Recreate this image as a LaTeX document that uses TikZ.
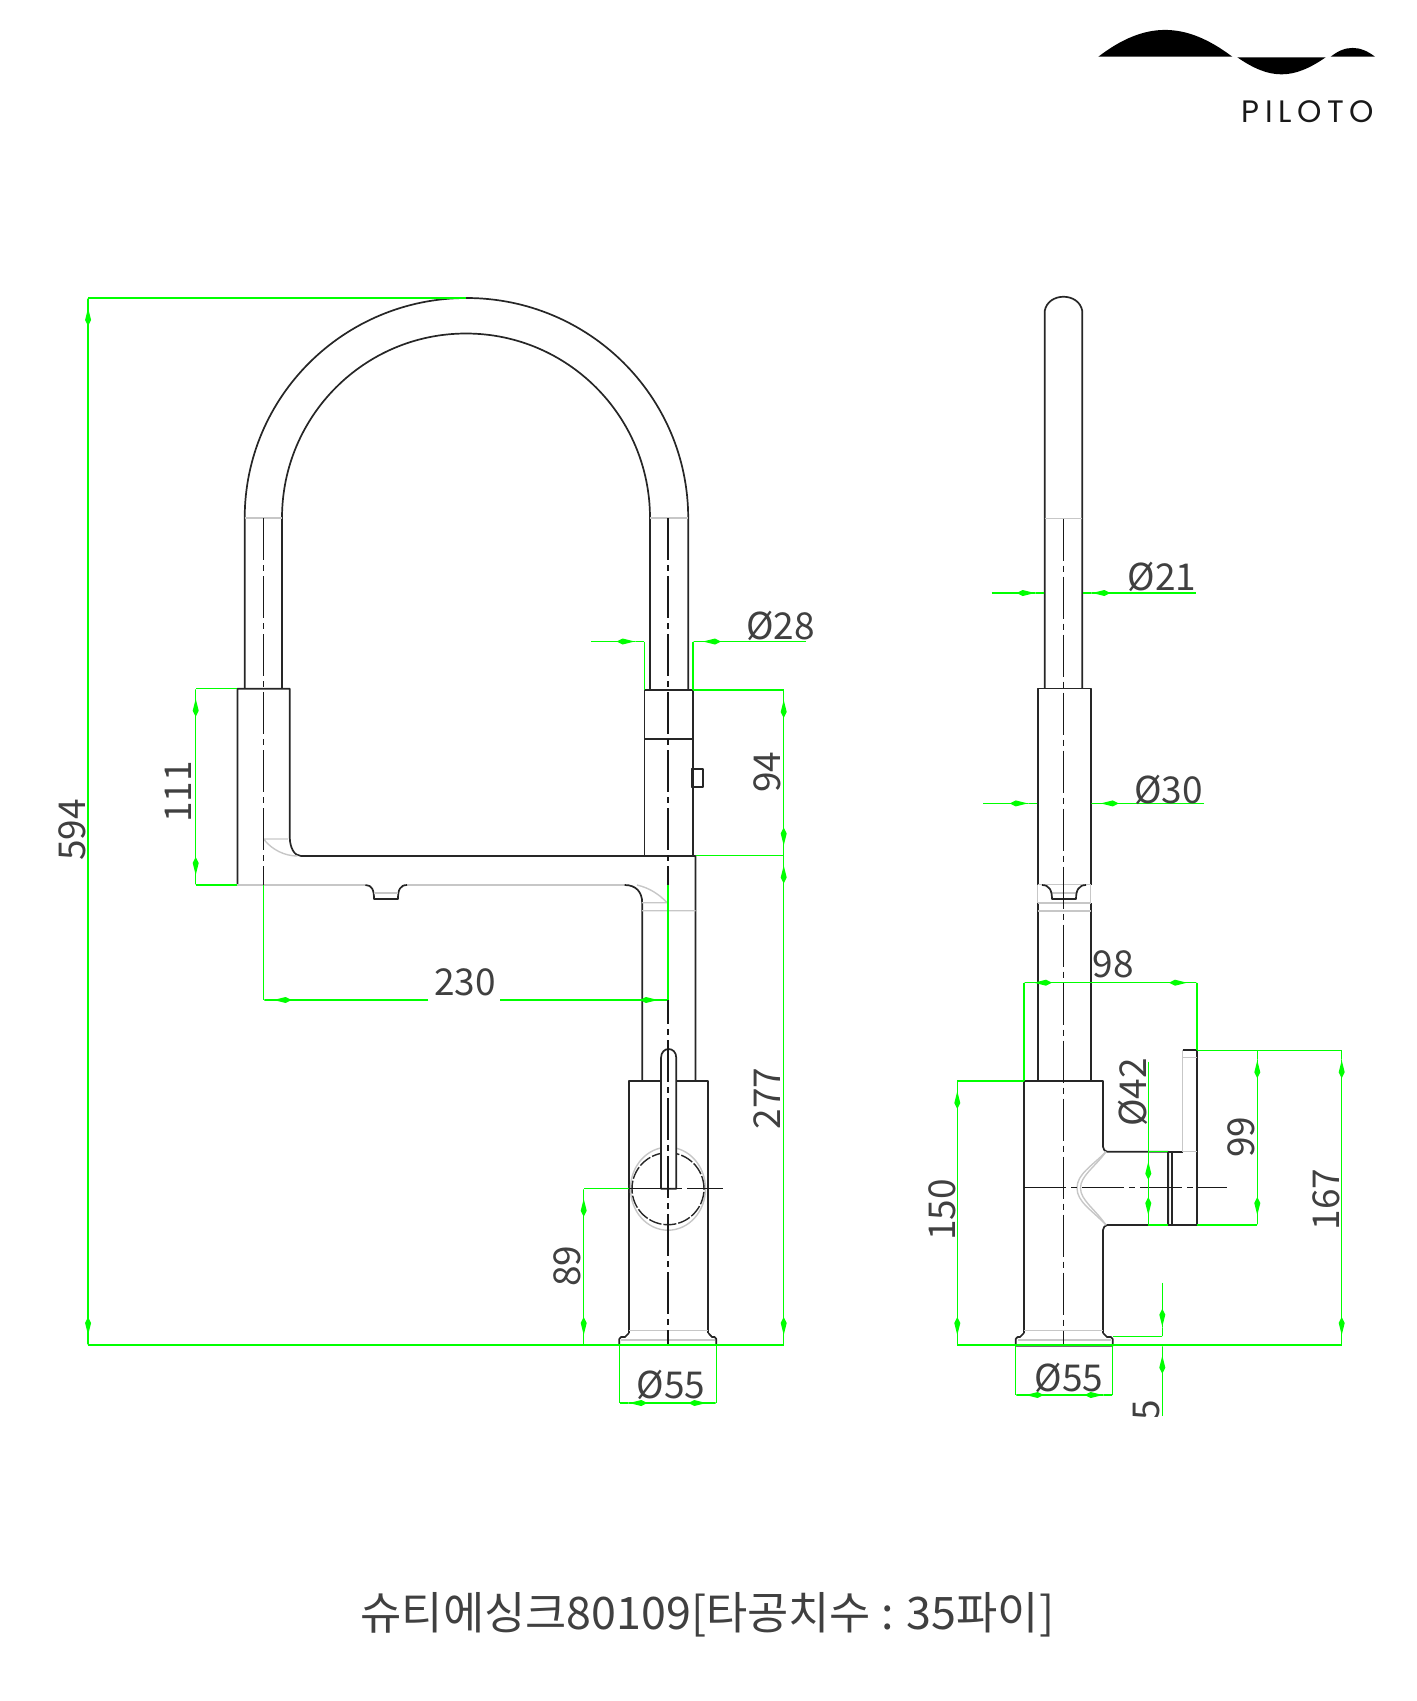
\documentclass[tikz,border=0pt]{standalone}
\usepackage{fontspec}
\usetikzlibrary{arrows.meta}
\newfontfamily\dimfont{Noto Sans CJK KR}
\newfontfamily\logofont{Poppins}[LetterSpace=18]
\begin{document}
\begin{tikzpicture}[x=1pt,y=-1pt,
  faucet/.style = {line width=1.7pt,draw=black!85,line join=round},
  hidden/.style = {line width=1.4pt,draw=black!22},
  axisline/.style = {line width=1.5pt,draw=black!90,dash pattern=on 42pt off 5pt on 6pt off 5pt},
  dimline/.style = {line width=1.4pt,draw=green},
  dimboth/.style = {dimline,{Rectangle[length=10pt,width=1.4pt] Kite[length=18pt,width=6pt,inset=6pt]}-{Kite[length=18pt,width=6pt,inset=6pt] Rectangle[length=10pt,width=1.4pt]}},
  dimend/.style = {dimline,-{Kite[length=18pt,width=6pt,inset=6pt] Rectangle[length=10pt,width=1.4pt]}},
  dimtext/.style = {font=\dimfont\fontsize{37}{37}\selectfont,text=black!75,inner sep=0pt}]
 \useasboundingbox (0,0) rectangle (1417,1701);
 % logo
 \fill[black] (1098.3,56.7) .. controls (1145,21) and (1185,21) .. (1232.3,56.7) -- cycle;
 \fill[black] (1237.3,57.3) .. controls (1270,80) and (1293,80) .. (1325.7,57.3) -- cycle;
 \fill[black] (1330.7,56.7) .. controls (1345,45) and (1360,45) .. (1375,56.7) -- cycle;
 \node[inner sep=0pt,font=\logofont\fontsize{31}{31}\selectfont,text=black!90] (brand) at (1308,112) {PILOTO};
 % front view, spout
 \draw[faucet] (244.7,688.7) -- (244.7,518) arc[start angle=180,end angle=0,x radius=221.75pt,y radius=220pt] -- (688.2,690);
 \draw[faucet] (282,688.7) -- (282,518) arc[start angle=180,end angle=0,x radius=184pt,y radius=184.5pt] -- (650,690);
 \draw[hidden] (244.7,518) -- (282,518) (650,518) -- (688.2,518);
 % front view, body and arm
 \draw[faucet] (237.4,885) -- (237.4,688.7) -- (289.8,688.7) -- (289.8,838)
   .. controls (290,847) and (294,856) .. (301,856) -- (695.5,856) -- (695.5,1081);
 \draw[faucet] (644.6,856) -- (644.6,690) -- (693,690) -- (693,856) (644.6,738.7) -- (693,738.7);
 \draw[faucet] (691.6,768.7) rectangle (702.7,786.7);
 \draw[hidden] (237.4,885) -- (365.4,885) (407,885) -- (624.7,885);
 \draw[faucet] (365.4,885) .. controls (372,885) and (374,890) .. (374,899) -- (398,899) .. controls (398,890) and (400,885) .. (407,885);
 \draw[hidden] (374,893) -- (398,893);
 \draw[faucet] (624.7,885) .. controls (636,885) and (642.2,892) .. (642.2,903) -- (642.2,1081);
 \draw[hidden] (263.6,839) -- (288,839) (263.6,839) .. controls (272,850) and (285,856) .. (297.5,856);
 \draw[hidden] (637,885) .. controls (650,888) and (660,895) .. (667,902.7) -- (642.2,902.7) (642.2,910.7) -- (695.5,910.7);
 % front view, base
 \draw[faucet] (629,1333) -- (629,1081) -- (708.3,1081) -- (708.3,1333);
 \draw[faucet] (629,1333) -- (625,1337) -- (621,1337) -- (619.3,1339) -- (619.3,1345) -- (716.3,1345) -- (716.3,1339) -- (714.6,1337) -- (712,1337) -- (708.3,1333);
 \draw[hidden] (629,1330.7) -- (708.3,1330.7) (621,1340) -- (714.6,1340);
 \draw[hidden] (668,1188.7) ellipse[x radius=37.5pt,y radius=41.5pt];
 \draw[faucet,line width=1.4pt,dash pattern=on 13pt off 2pt] (668,1188.7) circle[radius=36pt];
 \draw[faucet,fill=white] (661,1188.7) -- (661,1058) .. controls (661,1046) and (676.3,1046) .. (676.3,1058) -- (676.3,1188.7) -- cycle;
 % side view
 \draw[faucet] (1044.7,688.5) -- (1044.7,311) .. controls (1048,292) and (1079,292) .. (1082.3,311) -- (1082.3,688.5);
 \draw[hidden] (1044.7,518.5) -- (1082.3,518.5);
 \draw[faucet] (1037.7,884.5) -- (1037.7,688.5) -- (1090.7,688.5) -- (1090.7,884.5);
 \draw[faucet] (1037.7,903) -- (1037.7,1081) (1090.7,903) -- (1090.7,1081);
 \draw[hidden] (1037.7,884.5) -- (1037.7,903) (1090.7,884.5) -- (1090.7,903) (1037.7,884.5) -- (1090.7,884.5)
   (1037.7,903) -- (1090.7,903) (1037.7,911) -- (1090.7,911) (1052,893) -- (1076,893);
 \draw[faucet] (1042,885) .. controls (1049,885) and (1052,890) .. (1052,899) -- (1076,899) .. controls (1076,890) and (1079,885) .. (1086,885);
 \draw[faucet] (1024,1333) -- (1024,1081) -- (1103,1081) -- (1103,1146.7) .. controls (1103,1149) and (1105,1151.7) .. (1107,1151.7)
   -- (1168.3,1151.7) -- (1168.3,1225) -- (1107,1225) .. controls (1105,1225) and (1103,1228) .. (1103,1230) -- (1103,1333);
 \draw[faucet] (1168.3,1151.7) rectangle (1171.7,1225);
 \draw[faucet] (1171.7,1151.7) -- (1182.7,1151.7) (1182.7,1050.3) -- (1197,1050.3) -- (1197,1225) -- (1171.7,1225);
 \draw[hidden] (1182.7,1050.3) -- (1182.7,1151.7) -- (1197,1151.7) (1182.7,1057.7) -- (1197,1057.7);
 \draw[hidden] (1106,1151.7) .. controls (1092,1166) and (1077,1174) .. (1077,1188) .. controls (1077,1202) and (1092,1210) .. (1106,1225);
 \draw[hidden] (1106,1151.7) .. controls (1094,1168) and (1080.5,1176) .. (1080.5,1188) .. controls (1080.5,1200) and (1094,1208) .. (1106,1225);
 \draw[faucet] (1024,1333) -- (1020,1337) -- (1017.5,1337) -- (1015.7,1339) -- (1015.7,1345.7) -- (1112.7,1345.7) -- (1112.7,1339) -- (1111,1337) -- (1107,1337) -- (1103,1333);
 \draw[hidden] (1024,1330.7) -- (1103,1330.7) (1018,1340) -- (1111,1340);
 % centre lines
 \draw[axisline] (263.6,518) -- (263.6,885);
 \draw[axisline] (667.9,518) -- (667.9,1345);
 \draw[axisline] (629,1188.7) -- (722.7,1188.7);
 \draw[axisline] (1063.5,518.5) -- (1063.5,1345.7);
 \draw[axisline] (1024,1187.7) -- (1227.3,1187.7);
 % dimensions, front view
 \draw[dimline] (466,298) -- (88.1,298) (88.1,1345) -- (783.7,1345);
 \draw[dimboth] (88.1,298) -- (88.1,1345);
 \draw[dimline] (237.4,688.7) -- (195.7,688.7) (237.4,885) -- (195.7,885);
 \draw[dimboth] (195.7,688.7) -- (195.7,885);
 \draw[dimline] (693,690) -- (783.7,690) (695.5,855.5) -- (783.7,855.5);
 \draw[dimboth] (783.7,690) -- (783.7,855.5);
 \draw[dimboth] (783.7,855.5) -- (783.7,1345);
 \draw[dimline] (263.6,885) -- (263.6,1000) (667.9,885) -- (667.9,1000);
 \draw[dimend] (428.4,1000) -- (263.6,1000);
 \draw[dimend] (500,1000) -- (667.9,1000);
 \draw[dimend] (590.8,641.5) -- (644.6,641.5);
 \draw[dimend] (806,641.5) -- (693,641.5);
 \draw[dimline] (644.6,641.5) -- (644.6,690) (693,641.5) -- (693,690);
 \draw[dimline] (629,1188.7) -- (583.7,1188.7);
 \draw[dimboth] (583.7,1188.7) -- (583.7,1345);
 \draw[dimline] (619.3,1345) -- (619.3,1403) (716.3,1345) -- (716.3,1403);
 \draw[dimboth] (619.3,1403) -- (716.3,1403);
 % dimensions, side view
 \draw[dimend] (991.7,593) -- (1044.7,593);
 \draw[dimend] (1195.7,593) -- (1082.3,593);
 \draw[dimend] (983.3,803.4) -- (1037.7,803.4);
 \draw[dimend] (1204,803.4) -- (1090.7,803.4);
 \draw[dimline] (1024,982.7) -- (1024,1081) (1197,982.7) -- (1197,1050.3);
 \draw[dimboth] (1024,982.7) -- (1197,982.7);
 \draw[dimline] (1024,1081) -- (957.3,1081) (957.3,1345) -- (1341.7,1345);
 \draw[dimboth] (957.3,1081) -- (957.3,1345);
 \draw[dimline] (1197,1050.3) -- (1341.7,1050.3) (1197,1225) -- (1257.3,1225);
 \draw[dimboth] (1257.3,1050.3) -- (1257.3,1225);
 \draw[dimboth] (1341.7,1050.3) -- (1341.7,1345);
 \draw[dimline] (1148.3,1061.7) -- (1148.3,1225) (1148.3,1151.7) -- (1168.3,1151.7) (1148.3,1225) -- (1168.3,1225);
 \draw[dimboth] (1148.3,1151.7) -- (1148.3,1225);
 \draw[dimline] (1015.7,1345.7) -- (1015.7,1395) (1112.7,1345.7) -- (1112.7,1395);
 \draw[dimboth] (1015.7,1395) -- (1112.7,1395);
 \draw[dimline] (1112.7,1336.7) -- (1162.3,1336.7);
 \draw[dimend] (1162.3,1282.7) -- (1162.3,1336.7);
 \draw[dimend] (1162.3,1416) -- (1162.3,1345.7);
 % labels
 \node[dimtext,rotate=90] (h594) at (72,830) {594};
 \node[dimtext,rotate=90] (h111) at (178,792) {111};
 \node[dimtext,rotate=90] (h94) at (767.7,772) {94};
 \node[dimtext,rotate=90] (h277) at (766.7,1098.5) {277};
 \node[dimtext,rotate=90] (h89) at (567,1266) {89};
 \node[dimtext] (w230) at (465,982) {230};
 \node[dimtext] (d28) at (780.5,625.5) {Ø28};
 \node[dimtext] (d55a) at (671,1385) {Ø55};
 \node[dimtext] (d21) at (1162,577) {Ø21};
 \node[dimtext] (d30) at (1168.7,789.5) {Ø30};
 \node[dimtext] (w98) at (1113.3,964) {98};
 \node[dimtext,rotate=90] (d42) at (1132.7,1092.7) {Ø42};
 \node[dimtext,rotate=90] (h99) at (1241.7,1137) {99};
 \node[dimtext,rotate=90] (h167) at (1326,1199.7) {167};
 \node[dimtext,rotate=90] (h150) at (942.5,1210) {150};
 \node[dimtext] (d55b) at (1069,1378) {Ø55};
 \begin{scope}
  \clip (1120,1380) rectangle (1175,1416);
  \node[dimtext,rotate=90] (h5) at (1146.7,1410) {5};
 \end{scope}
 \node[inner sep=0pt,font=\dimfont\fontsize{44.8}{44.8}\selectfont,text=black!75] (title) at (707.5,1615) {슈티에싱크80109[타공치수 : 35파이]};
\end{tikzpicture}
\end{document}
